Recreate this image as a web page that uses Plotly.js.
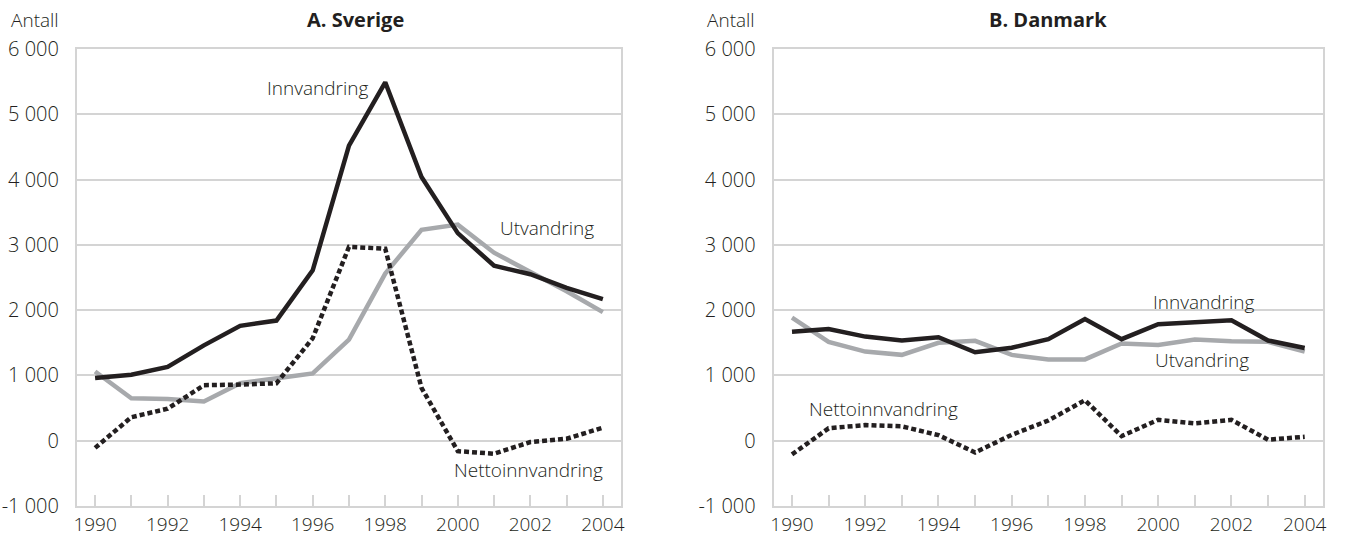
<!DOCTYPE html>
<html><head><meta charset="utf-8">
<script src="https://cdn.plot.ly/plotly-3.0.1.min.js"></script>
<style>html,body{margin:0;padding:0;background:#fff}#chart{width:1350px;height:538px}</style>
</head><body><div id="chart"></div>
<script>
const years = [1990,1991,1992,1993,1994,1995,1996,1997,1998,1999,2000,2001,2002,2003,2004];
const yearLabels = ["1990","","1992","","1994","","1996","","1998","","2000","","2002","","2004"];
const yTickVals = [-1000,0,1000,2000,3000,4000,5000,6000];
const yTickText = ["-1 000","0","1 000","2 000","3 000","4 000","5 000","6 000"];

const seInn = [960,1010,1130,1460,1760,1840,2610,4520,5490,4040,3180,2680,2550,2340,2170];
const seUt = [1060,650,640,600,880,960,1030,1550,2560,3230,3310,2880,2580,2290,1970];
const seNetto = [-110,360,490,850,860,880,1570,2970,2940,810,-160,-200,-20,30,200];

const dkInn = [1670,1710,1595,1535,1585,1355,1425,1555,1865,1555,1785,1815,1845,1535,1420];
const dkUt = [1885,1515,1365,1315,1500,1530,1315,1245,1245,1490,1465,1550,1525,1515,1365];
const dkNetto = [-210,190,240,220,85,-180,90,310,620,70,320,265,320,15,60];

const labels = {inn:"Innvandring", ut:"Utvandring", netto:"Nettoinnvandring"};

const FONT = "Open Sans, Noto Sans, sans-serif";
const TXT = "#231f20";
const black = "#231f20", gray = "#a7a9ac";
function tr(y, color, dash, xa, ya, name){
  return {x:years, y:y, type:"scatter", mode:"lines", name:name, xaxis:xa, yaxis:ya,
    line:{color:color, width:4.5, dash:dash}, hoverinfo:"x+y"};
}
const data = [
  tr(seUt, gray, "solid", "x", "y", labels.ut),
  tr(seInn, black, "solid", "x", "y", labels.inn),
  tr(seNetto, black, "5px,3px", "x", "y", labels.netto),
  tr(dkUt, gray, "solid", "x2", "y2", labels.ut),
  tr(dkInn, black, "solid", "x2", "y2", labels.inn),
  tr(dkNetto, black, "5px,3px", "x2", "y2", labels.netto)
];
const gridC = "#d4d4d4";
const tickFontX = {family:FONT, size:19, color:TXT, weight:300};
const tickFontY = {family:FONT, size:20, color:TXT, weight:300};
function xax(dom, anchor){
  return {domain:dom, anchor:anchor, range:[1989.5,2004.5], tickvals:years, ticktext:yearLabels,
    ticks:"inside", ticklen:11, tickwidth:2, tickcolor:gridC, showgrid:false, zeroline:false,
    showline:true, linecolor:gridC, linewidth:2, mirror:true, ticklabelstandoff:0,
    tickfont:tickFontX};
}
function yax(anchor){
  return {domain:[0.0595,0.9089], anchor:anchor, range:[-1000,6000], tickvals:yTickVals, ticktext:yTickText,
    showgrid:true, gridcolor:gridC, gridwidth:2, zeroline:false, ticks:"", ticklabelstandoff:12,
    showline:true, linecolor:gridC, linewidth:2, mirror:true,
    tickfont:tickFontY};
}
const annFont = {family:FONT,size:19,color:TXT,weight:300};
const ann = (x,y,text,xref,yref,opts)=>Object.assign({x:x,y:y,text:text,xref:xref,yref:yref,showarrow:false,
  xanchor:"center", yanchor:"middle", font:annFont}, opts||{});
const titleFont = {family:FONT,size:20,color:TXT,weight:700};
const layout = {
  width:1350, height:538, margin:{l:0,r:0,t:0,b:0}, showlegend:false,
  paper_bgcolor:"#fff", plot_bgcolor:"#fff",
  xaxis:xax([0.0570,0.4600],"y"), yaxis:yax("x"),
  xaxis2:xax([0.5731,0.9800],"y2"), yaxis2:yax("x2"),
  annotations:[
    ann(0.0067,0.963,"Antall","paper","paper",{xanchor:"left"}),
    ann(0.5225,0.963,"Antall","paper","paper",{xanchor:"left"}),
    ann(0.2637,0.963,"A. Sverige","paper","paper",{font:titleFont}),
    ann(0.7763,0.963,"B. Danmark","paper","paper",{font:titleFont}),
    ann(1996.14,5405,labels.inn,"x","y"),
    ann(2002.45,3252,labels.ut,"x","y"),
    ann(2001.96,-443,labels.netto,"x","y"),
    ann(2001.24,2122,labels.inn,"x2","y2"),
    ann(2001.19,1237,labels.ut,"x2","y2"),
    ann(1992.5,489,labels.netto,"x2","y2")
  ]
};
Plotly.newPlot("chart", data, layout, {staticPlot:true, displayModeBar:false});
</script></body></html>
